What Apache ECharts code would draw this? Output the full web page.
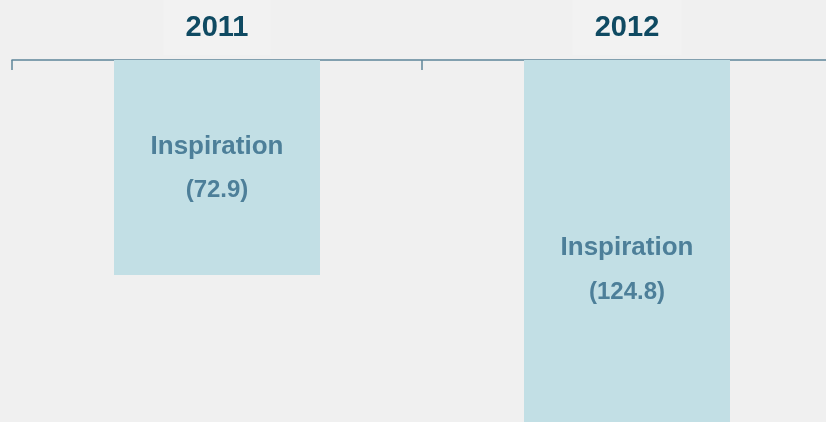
<!DOCTYPE html>
<html>
<head>
<meta charset="utf-8">
<script src="https://cdn.jsdelivr.net/npm/echarts@6/dist/echarts.min.js"></script>
<style>
  html, body { margin: 0; padding: 0; background: #f0f0f0; overflow: hidden; }
  #chart { width: 832px; height: 422px; }
</style>
</head>
<body>
<div id="chart"></div>
<script>
const years = ['2011', '2012']
const seriesName = 'Inspiration'
const values = [72.9, 124.8]
// label nudge per bar (px), the second one sits a bit lower than the middle
const labelShift = [1, 29]

const chart = echarts.init(document.getElementById('chart'))

const data = values.map((v, i) => ({
  value: v,
  label: { offset: [0, labelShift[i]] }
}))

const font = 'Liberation Sans, Arial, sans-serif'

chart.setOption({
  backgroundColor: '#f0f0f0',
  grid: { left: 12, right: 0, top: 60, bottom: 0 },
  xAxis: {
    type: 'category',
    position: 'top',
    data: years,
    axisLine: { lineStyle: { color: '#5d8599', width: 1.5 } },
    axisTick: { show: true, inside: true, length: 10, lineStyle: { color: '#5d8599', width: 1.5 } },
    axisLabel: {
      margin: 5,
      color: '#0f4a62',
      fontFamily: font,
      fontWeight: 'bold',
      fontSize: 29,
      lineHeight: 28,
      backgroundColor: '#f2f2f2',
      padding: [14, 22, 13, 22]
    }
  },
  yAxis: {
    type: 'value',
    inverse: true,
    min: 0,
    max: 122.7,
    show: false
  },
  series: [{
    type: 'bar',
    name: seriesName,
    data: data,
    barWidth: 206,
    itemStyle: { color: '#c2dfe5' },
    label: {
      show: true,
      position: 'inside',
      formatter: p => '{a|' + seriesName + '}\n{b|(' + p.value + ')}',
      rich: {
        a: { fontFamily: font, fontWeight: 'bold', fontSize: 26, lineHeight: 44, color: '#4d7f99' },
        b: { fontFamily: font, fontWeight: 'bold', fontSize: 24, lineHeight: 44, color: '#4d7f99' }
      }
    }
  }]
})
</script>
</body>
</html>
